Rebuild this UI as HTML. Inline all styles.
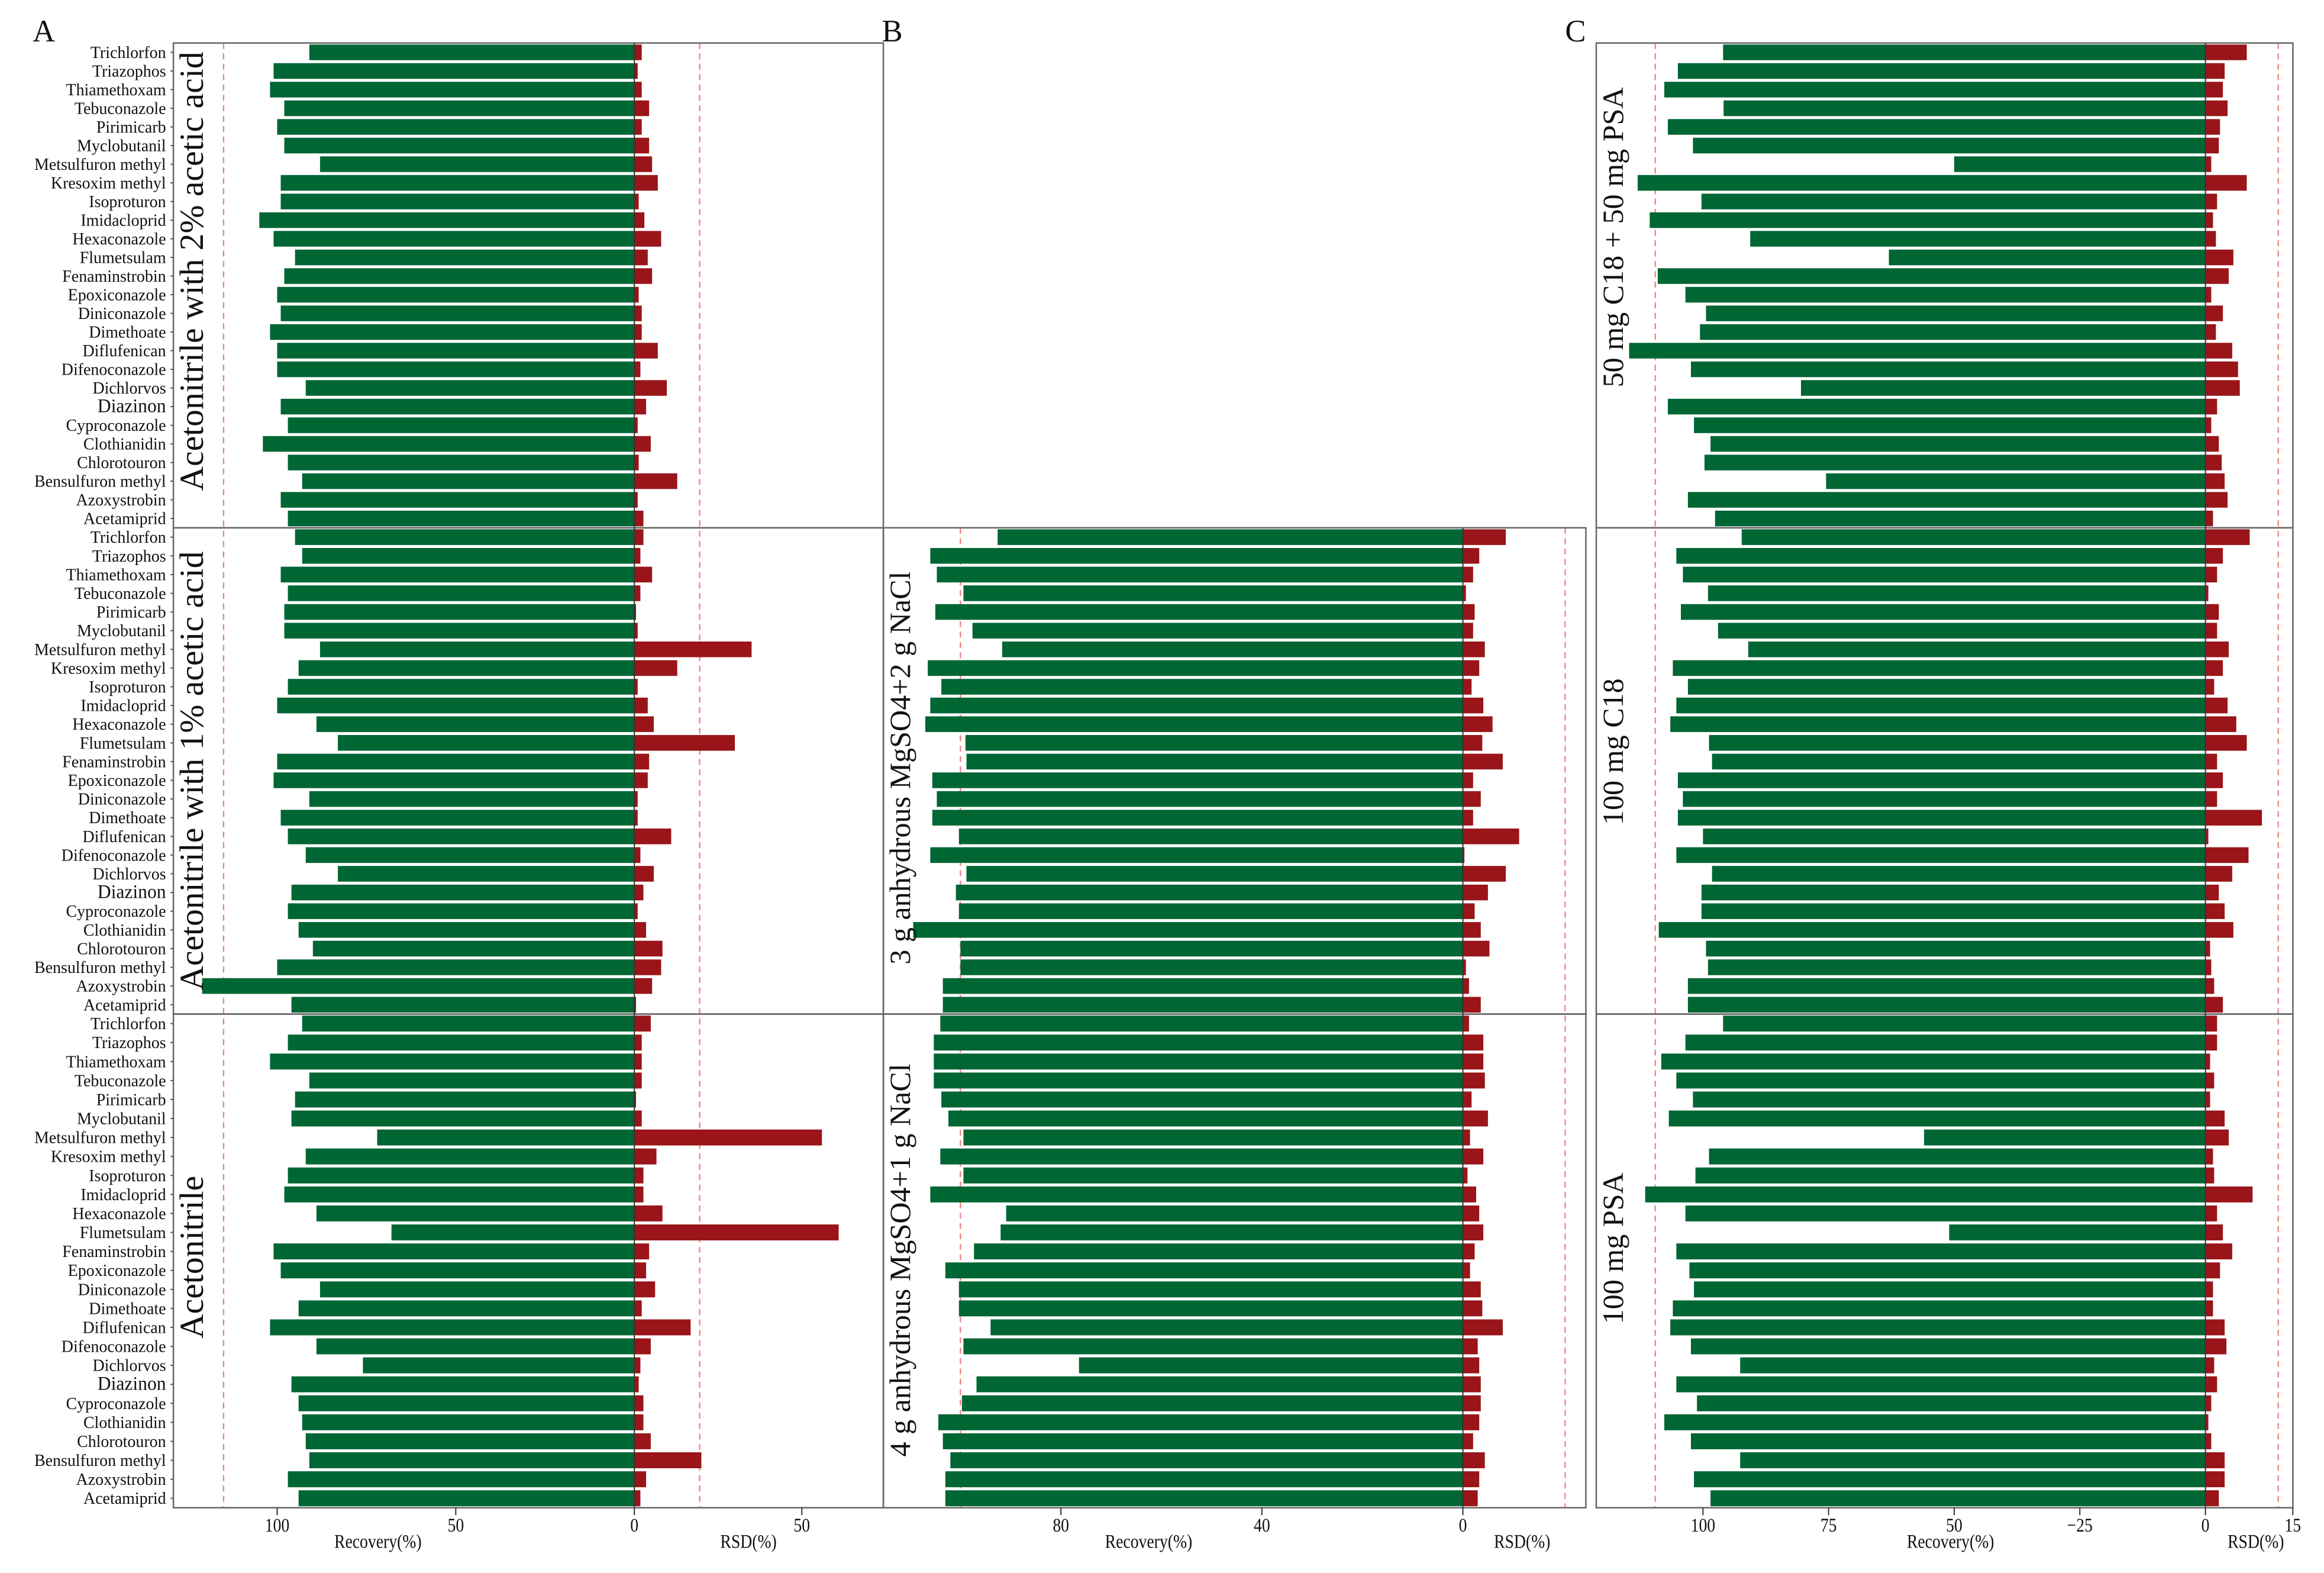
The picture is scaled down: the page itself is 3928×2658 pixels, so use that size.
<!DOCTYPE html>
<html><head><meta charset="utf-8"><style>
html,body{margin:0;padding:0;background:#fff;}
svg{display:block;font-family:"Liberation Serif",serif;}
</style></head><body>
<svg id="chart" xmlns="http://www.w3.org/2000/svg" width="3928" height="2658" viewBox="0 0 1568 1061"></svg>
<script>
const compounds = ["Trichlorfon","Triazophos","Thiamethoxam","Tebuconazole","Pirimicarb","Myclobutanil","Metsulfuron methyl","Kresoxim methyl","Isoproturon","Imidacloprid","Hexaconazole","Flumetsulam","Fenaminstrobin","Epoxiconazole","Diniconazole","Dimethoate","Diflufenican","Difenoconazole","Dichlorvos","Diazinon","Cyproconazole","Clothianidin","Chlorotouron","Bensulfuron methyl","Azoxystrobin","Acetamiprid"];

const recA1 = [91,101,102,98,100,98,88,99,99,105,101,95,98,100,99,102,100,100,92,99,97,104,97,93,99,97];
const rsdA1 = [2.2,1,2.2,4.4,2.2,4.4,5.3,7,1.3,3,8,4,5.3,1.3,2.2,2.2,7,1.8,9.7,3.5,1,4.9,1.3,12.8,1,2.7];
const recA2 = [95,93,99,97,98,98,88,94,97,100,89,83,100,101,91,99,97,92,83,96,97,94,90,100,121,96];
const rsdA2 = [2.7,1.8,5.3,1.8,0.5,1,35,12.8,1,4,5.8,30,4.4,4,1,1,11,1.8,5.8,2.7,1,3.5,8.4,8,5.3,0.5];
const recA3 = [93,97,102,91,95,96,72,92,97,98,89,68,101,99,88,94,102,89,76,96,94,93,92,91,97,94];
const rsdA3 = [4.9,2.2,2.2,2.2,0.5,2.2,56,6.6,2.7,2.7,8.4,61,4.4,3.5,6.2,2.2,16.8,4.9,1.8,1.3,2.7,2.7,4.9,20,3.5,1.8];

const recB1 = [92.6,106,104.7,99.4,105,97.6,91.7,106.5,103.8,106,107,99,98.8,105.6,104.7,105.6,100.3,106,98.8,100.9,100.3,109.4,100,100,103.5,103.5];
const rsdB1 = [8.4,3.2,2,0.6,2.3,2,4.3,3.2,1.7,4,5.8,3.8,7.8,2,3.5,2,11,0.3,8.4,4.9,2.3,3.5,5.2,0.6,1.2,3.5];
const recB2 = [104,105.3,105.3,105.3,103.8,102.4,99.4,104,99.4,106,90.9,92,97.3,103,100.3,100.3,94,99.4,76.4,96.8,99.7,104.4,103.5,102,103,103];
const rsdB2 = [1.2,4,4,4.3,1.7,4.9,1.4,4,0.9,2.6,3.2,4,2.3,1.4,3.5,3.8,7.8,2.9,3.2,3.5,3.5,3.2,2,4.3,3.2,2.9];

const recC1 = [96,105,107.7,95.9,107,102,50,113,100.3,110.6,90.6,63,109,103.5,99.4,100.6,114.7,102.4,80.5,107,101.8,98.5,99.7,75.5,103,97.6];
const rsdC1 = [7.1,3.3,3,3.8,2.5,2.3,1,7.1,2,1.3,1.8,4.8,4,1,3,1.8,4.6,5.6,5.9,2,1,2.3,2.8,3.3,3.8,1.3];
const recC2 = [92.3,105.3,104,99,104.4,97,91,106,103,105.3,106.5,98.8,98.2,105,104,105,100,105.3,98.2,100.3,100.3,108.8,99.4,99,103,103];
const rsdC2 = [7.6,3,2,0.5,2.3,2,4,3,1.5,3.8,5.3,7.1,2,3,2,9.7,0.5,7.4,4.6,2.3,3.3,4.8,0.8,1,1.5,3];
const recC3 = [96,103.5,108.3,105.3,102,106.8,56,98.8,101.5,111.5,103.5,51,105.3,102.7,101.8,106,106.5,102.4,92.6,105.3,101.2,107.7,102.4,92.6,101.8,98.5];
const rsdC3 = [2,2,0.8,1.5,0.8,3.3,4,1.3,1.5,8.1,2,3,4.6,2.5,1.3,1.3,3.3,3.6,1.5,2,1,0.5,1,3.3,3.3,2.3];

const ticksA = [{v:100,s:"rec",t:"100"},{v:50,s:"rec",t:"50"},{v:0,s:"rec",t:"0"},{v:50,s:"rsd",t:"50"}];
const ticksB = [{v:80,s:"rec",t:"80"},{v:40,s:"rec",t:"40"},{v:0,s:"rec",t:"0"}];
const ticksC = [{v:100,s:"rec",t:"100"},{v:75,s:"rec",t:"75"},{v:50,s:"rec",t:"50"},{v:25,s:"rec",t:"\u221225"},{v:0,s:"rec",t:"0"},{v:15,s:"rsd",t:"15"}];

const NS = "http://www.w3.org/2000/svg";
const svg = document.getElementById("chart");
const GREEN = "#006633", RED = "#9a1519";

function mk(tag, attrs, parent){
  const e = document.createElementNS(NS, tag);
  for (const k in attrs) e.setAttribute(k, attrs[k]);
  (parent||svg).appendChild(e);
  return e;
}

function drawPanel(p){
  const g = mk("g", {});
  
  
  const recX = v => p.zero - v * p.recK;
  const rsdX = v => p.zero + v * p.rsdK;
  const boxTop = p.subs[0].y0, boxBot = p.subs[p.subs.length-1].y1;
  const d1 = mk("line", {x1:recX(p.dashRec), x2:recX(p.dashRec), y1:boxTop, y2:boxBot, stroke:"#f08080", "stroke-width":0.9, "stroke-dasharray":"4,3"}, g);
  
  
  const d2 = mk("line", {x1:rsdX(p.dashRsd), x2:rsdX(p.dashRsd), y1:boxTop, y2:boxBot, stroke:"#f08080", "stroke-width":0.9, "stroke-dasharray":"4,3"}, g);
  
  
  p.subs.forEach((s, si) => {
    const n = compounds.length;
    const rh = (s.y1 - s.y0) / n;
    const bh = rh * 0.84;
    const sg = mk("g", {}, g);
    
    
    compounds.forEach((c, i) => {
      const cy = s.y0 + rh * (i + 0.5);
      const rb = mk("rect", {x:recX(s.rec[i]), y:cy-bh/2, width:p.zero-recX(s.rec[i]), height:bh, fill:GREEN}, sg);
      
      
      const sb = mk("rect", {x:p.zero, y:cy-bh/2, width:rsdX(s.rsd[i])-p.zero, height:bh, fill:RED}, sg);
      
      
      if (p.labels){
        const fs = c === "Diazinon" ? 13 : 11.5;
        const t = mk("text", {transform:"translate("+(p.x0-5)+","+(cy+3.8)+") scale(0.97,1)", "text-anchor":"end", "font-size":fs, fill:"#111"}, sg);
        t.textContent = c;
        
        
        mk("line", {x1:p.x0-2, x2:p.x0, y1:cy, y2:cy, stroke:"#555", "stroke-width":0.8}, sg);
      }
    });
    const ty = s.ty;
    const tt = mk("text", {transform:"translate("+(p.x0+p.titleDx)+","+ty+") rotate(-90)", "text-anchor":"middle", "font-size":p.titleSize, fill:"#111"}, sg);
    tt.textContent = s.title;
    
    
    const bx = mk("rect", {x:p.x0, y:s.y0, width:p.x1-p.x0, height:s.y1-s.y0, fill:"none", stroke:"#666", "stroke-width":1}, sg);
    
    
  });
  mk("line", {x1:p.zero, x2:p.zero, y1:boxTop, y2:boxBot, stroke:"#333", "stroke-width":0.8}, g);
  p.ticks.forEach(tk => {
    const x = tk.s === "rec" ? recX(tk.v) : rsdX(tk.v);
    mk("line", {x1:x, x2:x, y1:boxBot, y2:boxBot+5, stroke:"#333", "stroke-width":0.8}, g);
    const t = mk("text", {transform:"translate("+x+","+(boxBot+16)+") scale(0.85,1)", "text-anchor":"middle", "font-size":13, fill:"#111"}, g);
    t.textContent = tk.t;
    
    
  });
  const xl = mk("text", {transform:"translate("+p.recLabelX+","+(boxBot+27)+") scale(0.85,1)", "text-anchor":"middle", "font-size":13, fill:"#111"}, g);
  xl.textContent = "Recovery(%)";
  
  
  const rl = mk("text", {transform:"translate("+p.rsdLabelX+","+(boxBot+27)+") scale(0.85,1)", "text-anchor":"middle", "font-size":13, fill:"#111"}, g);
  rl.textContent = "RSD(%)";
  
  
  const pl = mk("text", {x:p.letterX, y:28, "font-size":21, fill:"#111"}, g);
  pl.textContent = p.letter;
  
  
}

drawPanel({name:"panel-a", letter:"A", letterX:22, x0:117, x1:596, zero:428, recK:2.41, rsdK:2.26, dashRec:115, dashRsd:19.5, labels:true, titleDx:20, titleSize:23,
  ticks:ticksA, recLabelX:255, rsdLabelX:505,
  subs:[{key:"2pct-acetic",title:"Acetonitrile with 2% acetic acid",y0:29,y1:356,ty:183,rec:recA1,rsd:rsdA1},
        {key:"1pct-acetic",title:"Acetonitrile with 1% acetic acid",y0:356,y1:684,ty:520,rec:recA2,rsd:rsdA2},
        {key:"acetonitrile",title:"Acetonitrile",y0:684,y1:1017,ty:848,rec:recA3,rsd:rsdA3}]});
drawPanel({name:"panel-b", letter:"B", letterX:595, x0:596, x1:1070, zero:987, recK:3.39, rsdK:3.45, dashRec:100, dashRsd:20, labels:false, titleDx:18, titleSize:20,
  ticks:ticksB, recLabelX:775, rsdLabelX:1027,
  subs:[{key:"mgso4-3g-nacl-2g",title:"3 g anhydrous MgSO4+2 g NaCl",y0:356,y1:684,ty:518,rec:recB1,rsd:rsdB1},
        {key:"mgso4-4g-nacl-1g",title:"4 g anhydrous MgSO4+1 g NaCl",y0:684,y1:1017,ty:850,rec:recB2,rsd:rsdB2}]});
drawPanel({name:"panel-c", letter:"C", letterX:1056, x0:1077, x1:1547, zero:1488, recK:3.39, rsdK:3.93, dashRec:109.5, dashRsd:12.5, labels:false, titleDx:18, titleSize:20,
  ticks:ticksC, recLabelX:1316, rsdLabelX:1522,
  subs:[{key:"c18-psa",title:"50 mg C18 + 50 mg PSA",y0:29,y1:356,ty:160,rec:recC1,rsd:rsdC1},
        {key:"c18",title:"100 mg C18",y0:356,y1:684,ty:507,rec:recC2,rsd:rsdC2},
        {key:"psa",title:"100 mg PSA",y0:684,y1:1017,ty:842,rec:recC3,rsd:rsdC3}]});
</script>
</body></html>
